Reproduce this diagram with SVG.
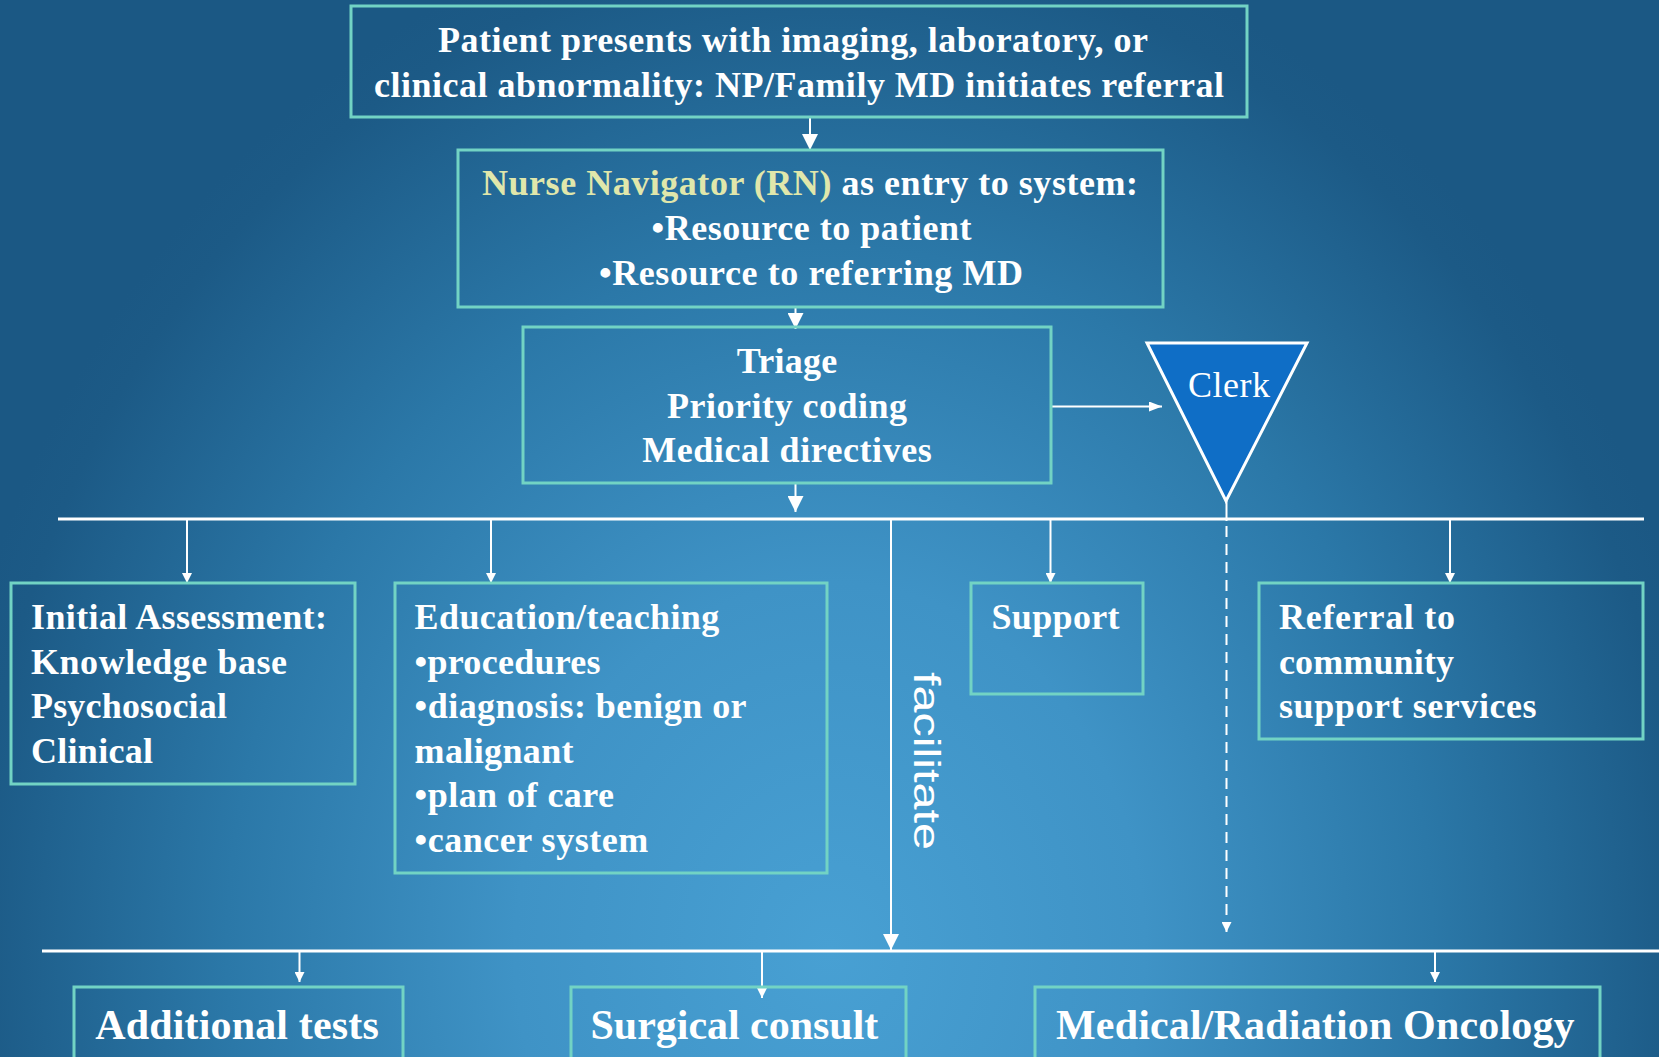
<svg xmlns="http://www.w3.org/2000/svg" width="1659" height="1057" viewBox="0 0 1659 1057">
  <defs>
    <radialGradient id="bg" gradientUnits="userSpaceOnUse" cx="0" cy="0" r="1000" gradientTransform="translate(830,950) scale(0.9,1.05)">
      <stop offset="0" stop-color="#48a0d3"/>
      <stop offset="0.35" stop-color="#3f93c6"/>
      <stop offset="0.67" stop-color="#2b78a8"/>
      <stop offset="0.95" stop-color="#1c5a86"/>
      <stop offset="1" stop-color="#1b5884"/>
    </radialGradient>
    <marker id="big" viewBox="0 0 16 16" refX="16" refY="8" markerWidth="16" markerHeight="16" markerUnits="userSpaceOnUse" orient="auto">
      <path d="M0,0 L16,8 L0,16 Z" fill="#ffffff"/>
    </marker>
    <marker id="mid" viewBox="0 0 13 10" refX="13" refY="5" markerWidth="13" markerHeight="10" markerUnits="userSpaceOnUse" orient="auto">
      <path d="M0,0 L13,5 L0,10 Z" fill="#ffffff"/>
    </marker>
    <marker id="small" viewBox="0 0 10 10" refX="10" refY="5" markerWidth="10" markerHeight="10" markerUnits="userSpaceOnUse" orient="auto">
      <path d="M0,0 L10,5 L0,10 Z" fill="#ffffff"/>
    </marker>
  </defs>
  <style>
    .box { fill: none; stroke: #72d3c4; stroke-width: 3; }
    .t { font-family: "Liberation Serif", "Times New Roman", serif; font-weight: bold; font-size: 36px; fill: #ffffff; }
    .tb { font-family: "Liberation Serif", "Times New Roman", serif; font-weight: bold; font-size: 42px; fill: #ffffff; }
    .c { text-anchor: middle; }
    .hl { color: #ffffff; }
    .nav { fill: #e0e7ab; }
    .ln { stroke: #ffffff; stroke-width: 2; fill: none; }
    .bus { stroke: #ffffff; stroke-width: 3; fill: none; }
  </style>
  <rect x="0" y="0" width="1659" height="1057" fill="url(#bg)"/>

  <g id="connectors">
    <line class="ln" x1="810" y1="118" x2="810" y2="150" marker-end="url(#big)"/>
    <line class="ln" x1="795.5" y1="307" x2="795.5" y2="329" marker-end="url(#big)"/>
    <line class="ln" x1="1052" y1="406.5" x2="1162" y2="406.5" stroke-width="2.5" marker-end="url(#mid)"/>
    <line class="ln" x1="795.5" y1="483" x2="795.5" y2="512" marker-end="url(#big)"/>
    <line class="bus" x1="58" y1="519" x2="1644" y2="519"/>
    <line class="ln" x1="187" y1="519" x2="187" y2="583" marker-end="url(#small)"/>
    <line class="ln" x1="491" y1="519" x2="491" y2="583" marker-end="url(#small)"/>
    <line class="ln" x1="1050.5" y1="519" x2="1050.5" y2="583" marker-end="url(#small)"/>
    <line class="ln" x1="1450" y1="519" x2="1450" y2="583" marker-end="url(#small)"/>
    <line class="ln" x1="891" y1="519" x2="891" y2="950" marker-end="url(#big)"/>
    <line class="ln" x1="1226.5" y1="501" x2="1226.5" y2="521"/>
    <line class="ln" x1="1226.5" y1="526" x2="1226.5" y2="932" stroke-dasharray="11 7" marker-end="url(#small)"/>
    <line class="bus" x1="42" y1="951" x2="1659" y2="951"/>
    <line class="ln" x1="299.5" y1="951" x2="299.5" y2="982" marker-end="url(#small)"/>
    <line class="ln" x1="762" y1="951" x2="762" y2="998" marker-end="url(#small)"/>
    <line class="ln" x1="1435" y1="951" x2="1435" y2="982" marker-end="url(#small)"/>
  </g>

  <g id="referral-start">
    <rect class="box" x="351" y="6" width="896" height="111"/>
    <text class="t c" x="793" y="52" textLength="710">Patient presents with imaging, laboratory, or</text>
    <text class="t c" x="799" y="97" textLength="850">clinical abnormality: NP/Family MD initiates referral</text>
  </g>

  <g id="nurse-navigator">
    <rect class="box" x="458" y="150" width="705" height="157"/>
    <text class="t c" x="810" y="195" textLength="656"><tspan class="nav">Nurse Navigator (RN)</tspan> as entry to system:</text>
    <text class="t c" x="811.5" y="240" textLength="320">•Resource to patient</text>
    <text class="t c" x="811" y="285" textLength="424">•Resource to referring MD</text>
  </g>

  <g id="triage">
    <rect class="box" x="523" y="327" width="528" height="156"/>
    <text class="t c" x="787" y="373" textLength="100.6">Triage</text>
    <text class="t c" x="787" y="418" textLength="240">Priority coding</text>
    <text class="t c" x="787" y="462" textLength="289.5">Medical directives</text>
  </g>

  <g id="clerk">
    <polygon points="1147,343 1307,343 1226,501" fill="#0f6ec6" stroke="#ffffff" stroke-width="3" stroke-linejoin="miter"/>
    <text x="1229" y="397" text-anchor="middle" textLength="82" font-family="Liberation Serif, Times New Roman, serif" font-size="36" fill="#ffffff">Clerk</text>
  </g>

  <g id="initial-assessment">
    <rect class="box" x="11" y="583" width="344" height="201"/>
    <text class="t" x="31" y="629" textLength="296">Initial Assessment:</text>
    <text class="t" x="31" y="674" textLength="256">Knowledge base</text>
    <text class="t" x="31" y="718" textLength="196">Psychosocial</text>
    <text class="t" x="31" y="763" textLength="122">Clinical</text>
  </g>

  <g id="education">
    <rect class="box" x="395" y="583" width="432" height="290"/>
    <text class="t" x="414.6" y="629" textLength="304.6">Education/teaching</text>
    <text class="t" x="414.6" y="674" textLength="186">•procedures</text>
    <text class="t" x="414.6" y="718" textLength="332">•diagnosis: benign or</text>
    <text class="t" x="414.6" y="763" textLength="159">malignant</text>
    <text class="t" x="414.6" y="807" textLength="199.5">•plan of care</text>
    <text class="t" x="414.6" y="852" textLength="233.6">•cancer system</text>
  </g>

  <g id="facilitate">
    <text transform="translate(914,672) rotate(90)" x="0" y="0" textLength="178" lengthAdjust="spacingAndGlyphs" font-family="Liberation Sans, Arial, sans-serif" font-size="37" fill="#ffffff">facilitate</text>
  </g>

  <g id="support">
    <rect class="box" x="971" y="583" width="172" height="111"/>
    <text class="t" x="991.5" y="629" textLength="128">Support</text>
  </g>

  <g id="community-referral">
    <rect class="box" x="1259" y="583" width="384" height="156"/>
    <text class="t" x="1279" y="629" textLength="176">Referral to</text>
    <text class="t" x="1279" y="674" textLength="175">community</text>
    <text class="t" x="1279" y="718" textLength="257.6">support services</text>
  </g>

  <g id="additional-tests">
    <rect class="box" x="74" y="987" width="329" height="100"/>
    <text class="tb" x="95.2" y="1039" textLength="283.6">Additional tests</text>
  </g>

  <g id="surgical-consult">
    <rect class="box" x="571" y="987" width="335" height="100"/>
    <text class="tb" x="590.5" y="1039" textLength="287.8">Surgical consult</text>
  </g>

  <g id="oncology">
    <rect class="box" x="1035" y="987" width="565" height="100"/>
    <text class="tb" x="1056" y="1039" textLength="518.6">Medical/Radiation Oncology</text>
  </g>
</svg>
